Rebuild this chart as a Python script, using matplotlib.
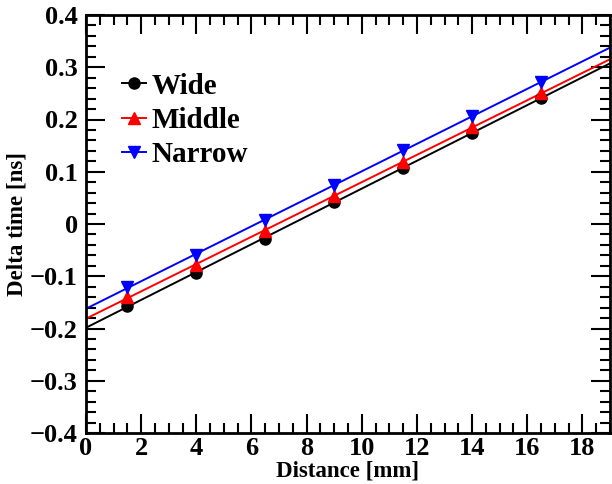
import numpy as np
import matplotlib
matplotlib.use("Agg")
import matplotlib.pyplot as plt
from matplotlib.ticker import MultipleLocator
from matplotlib.lines import Line2D

distance = [1.5, 4.0, 6.5, 9.0, 11.5, 14.0, 16.5]
wide = [-0.156, -0.093, -0.029, 0.042, 0.108, 0.175, 0.241]
middle = [-0.139, -0.078, -0.014, 0.054, 0.119, 0.185, 0.251]
narrow = [-0.120, -0.059, 0.007, 0.074, 0.142, 0.206, 0.272]
series = [("Wide", wide, "black", "o"),
          ("Middle", middle, "red", "^"),
          ("Narrow", narrow, "blue", "v")]
yticks = [-0.4, -0.3, -0.2, -0.1, 0.0, 0.1, 0.2, 0.3, 0.4]

plt.rcParams['font.family'] = ['Liberation Serif', 'DejaVu Serif']
plt.rcParams['font.weight'] = 'bold'

fig = plt.figure(figsize=(6.12, 4.84), dpi=100)
ax = fig.add_axes([86/612, 1 - 433/484, (610 - 86)/612, (433 - 15)/484])

xfit = np.array([0.0, 19.0])
for name, ys, col, mk in series:
    p = np.polyfit(distance, ys, 1)
    ax.plot(xfit, np.polyval(p, xfit), color=col, lw=1.4, zorder=2)
    ax.plot(distance, ys, linestyle='none', marker=mk, color=col, ms=8, zorder=3)

ax.set_xlim(0, 19)
ax.set_ylim(-0.4, 0.4)
ax.xaxis.set_major_locator(MultipleLocator(2))
ax.xaxis.set_minor_locator(MultipleLocator(0.5))
ax.yaxis.set_minor_locator(MultipleLocator(0.02))
ax.set_yticks(yticks)
ax.set_yticklabels(["0" if abs(v) < 1e-9 else f"{v:.1f}".replace("-", "\u2212") for v in yticks])
ax.tick_params(which='both', direction='in', top=True, right=True, width=1.5)
ax.tick_params(which='major', length=14, labelsize=19)
ax.tick_params(axis='y', which='major', pad=6)
ax.tick_params(axis='x', which='major', pad=3)
ax.tick_params(which='minor', length=7)
for s in ax.spines.values():
    s.set_linewidth(2)

ax.set_xlabel("Distance [mm]", fontsize=16.5, fontweight='bold', labelpad=0)
ax.set_ylabel("Delta time [ns]", fontsize=16.5, fontweight='bold', labelpad=2)

handles = [Line2D([], [], color=c, marker=m, ms=8, lw=1.4) for _, _, c, m in series]
leg = ax.legend(handles, [s[0] for s in series], loc='upper left',
                bbox_to_anchor=(0.068, 0.862), frameon=False,
                prop={'family': 'Liberation Serif', 'weight': 'bold', 'size': 21},
                handlelength=0.85, handletextpad=0.18, labelspacing=0.25, borderaxespad=0,
                borderpad=0)

fig.savefig("out.png", dpi=100)
